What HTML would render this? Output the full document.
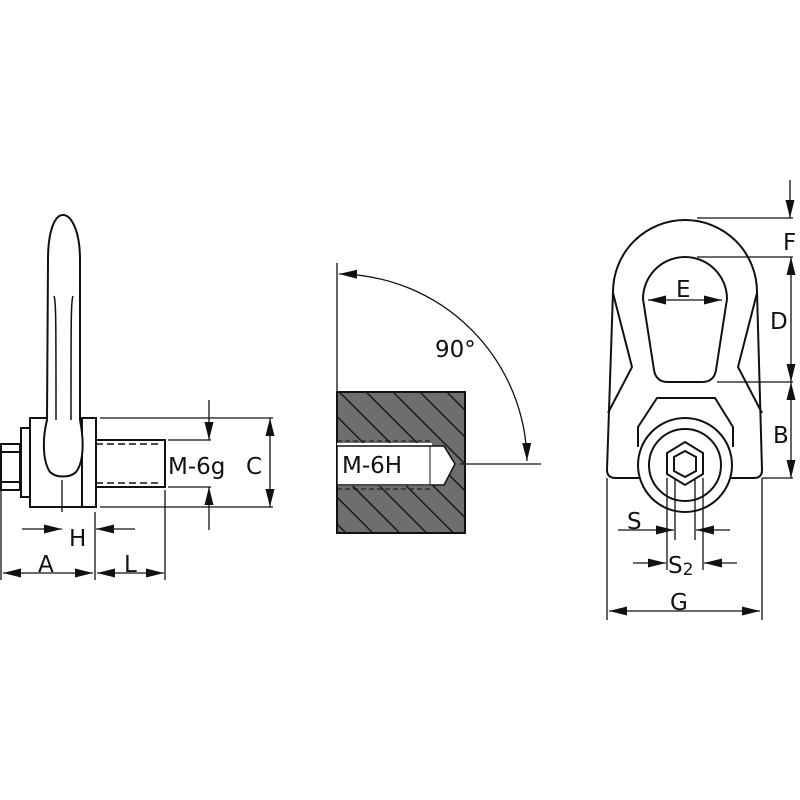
<!DOCTYPE html>
<html><head><meta charset="utf-8"><style>html,body{margin:0;padding:0;background:#fff}svg{display:block}text{font-family:"DejaVu Sans","Liberation Sans",sans-serif;fill:#111}</style></head><body>
<svg width="800" height="800" viewBox="0 0 800 800" xmlns="http://www.w3.org/2000/svg">
<defs>
<marker id="a" viewBox="0 0 10 10" preserveAspectRatio="none" refX="10" refY="5" markerWidth="18" markerHeight="9" markerUnits="userSpaceOnUse" orient="auto-start-reverse"><path d="M0,0L10,5L0,10z" fill="#111"/></marker>
<pattern id="h" width="19" height="19" patternUnits="userSpaceOnUse" patternTransform="rotate(-45)"><rect width="19" height="19" fill="#6e6e6e"/><line x1="0" y1="0" x2="0" y2="19" stroke="#1a1a1a" stroke-width="3"/></pattern>
</defs>
<g fill="none" stroke="#111" stroke-width="2">
<!-- LEFT VIEW -->
<rect x="1" y="444" width="19" height="46" fill="#fff"/>
<line x1="1" y1="452" x2="20" y2="452"/><line x1="1" y1="482" x2="20" y2="482"/>
<rect x="21" y="428" width="9" height="69" fill="#fff"/>
<rect x="30" y="418" width="66" height="89" fill="#fff"/>
<line x1="82" y1="418" x2="82" y2="507"/>
<path d="M48,260 C48,230 55,215 63,215 C71,215 80,230 80,260 L80,420 C84,440 84,462 76,472 C70,478 56,478 50,472 C43,462 42,440 47,420 Z" fill="#fff"/>
<path d="M54,296 C56,300 56,320 56,420" stroke-width="1.5"/><path d="M73,296 C71,300 71,320 71,420" stroke-width="1.5"/>
<rect x="96" y="440" width="69" height="47" fill="#fff"/>
<line x1="96" y1="444" x2="162" y2="444" stroke-dasharray="7,4" stroke-width="1.5"/>
<line x1="96" y1="483" x2="162" y2="483" stroke-dasharray="7,4" stroke-width="1.5"/>
<g stroke-width="1.3">
<line x1="100" y1="418" x2="273" y2="418"/><line x1="100" y1="507" x2="273" y2="507"/>
<line x1="168" y1="440" x2="211" y2="440"/><line x1="168" y1="487" x2="211" y2="487"/>
<line x1="270" y1="418" x2="270" y2="507" marker-start="url(#a)" marker-end="url(#a)"/>
<line x1="209" y1="400" x2="209" y2="440" marker-end="url(#a)"/>
<line x1="209" y1="530" x2="209" y2="487" marker-end="url(#a)"/>
<line x1="62" y1="480" x2="62" y2="512"/><line x1="95" y1="512" x2="95" y2="580"/>
<line x1="1" y1="480" x2="1" y2="580"/><line x1="165" y1="490" x2="165" y2="580"/>
<line x1="22" y1="529" x2="62" y2="529" marker-end="url(#a)"/>
<line x1="135" y1="529" x2="96" y2="529" marker-end="url(#a)"/>
<line x1="3" y1="573" x2="93" y2="573" marker-start="url(#a)" marker-end="url(#a)"/>
<line x1="97" y1="573" x2="164" y2="573" marker-start="url(#a)" marker-end="url(#a)"/>
</g>
<!-- MIDDLE -->
<rect x="337" y="392" width="128" height="141" fill="url(#h)" stroke="none"/>
<rect x="337" y="392" width="128" height="141"/>
<path d="M337,443 L432,443 L432,486 L337,486 Z" fill="#fff" stroke="none"/>
<path d="M337,446 L444,446 L455,464 L444,485 L337,485 Z" fill="#fff" stroke-width="1.5"/>
<line x1="430" y1="446" x2="430" y2="485" stroke-width="1"/>
<line x1="337" y1="441" x2="432" y2="441" stroke-dasharray="5,3" stroke-width="1"/>
<line x1="337" y1="489" x2="432" y2="489" stroke-dasharray="5,3" stroke-width="1"/>
<g stroke-width="1.3">
<line x1="337" y1="263" x2="337" y2="392"/>
<line x1="460" y1="464" x2="541" y2="464"/>
<path d="M339,274 A190,190 0 0 1 527,461" marker-start="url(#a)" marker-end="url(#a)"/>
</g>
<!-- RIGHT -->
<path d="M613,292 A72,72 0 0 1 757,292 L762,470 Q762,478 754,478 L616,478 Q607,478 607,470 Z" fill="#fff"/>
<path d="M643,299 A42,42 0 0 1 727,299 L716,370 Q714,382 702,382 L668,382 Q656,382 654,370 Z"/>
<path d="M613,293 L632,367 L608,413"/><path d="M757,293 L738,367 L762,413"/>
<path d="M638,447 L638,427 L657,398 L715,398 L733,427 L733,447"/>
<circle cx="685" cy="465" r="47" fill="#fff"/>
<circle cx="685" cy="465" r="36"/>
<polygon points="685,442 703,453 703,474 685,485 667,474 667,453"/>
<polygon points="685,451 696,457 696,471 685,477 674,471 674,457"/>
<g stroke-width="1.3">
<line x1="697" y1="218" x2="793" y2="218"/><line x1="697" y1="257" x2="793" y2="257"/>
<line x1="717" y1="382" x2="793" y2="382"/><line x1="762" y1="478" x2="793" y2="478"/>
<line x1="790" y1="180" x2="790" y2="218" marker-end="url(#a)"/>
<line x1="791" y1="257" x2="791" y2="382" marker-start="url(#a)" marker-end="url(#a)"/>
<line x1="791" y1="382" x2="791" y2="478" marker-start="url(#a)" marker-end="url(#a)"/>
<line x1="648" y1="300" x2="722" y2="300" marker-start="url(#a)" marker-end="url(#a)"/>
<line x1="667" y1="478" x2="667" y2="570"/><line x1="703" y1="478" x2="703" y2="570"/>
<line x1="675" y1="478" x2="675" y2="540"/><line x1="695" y1="478" x2="695" y2="540"/>
<line x1="618" y1="530" x2="674" y2="530" marker-end="url(#a)"/>
<line x1="730" y1="530" x2="696" y2="530" marker-end="url(#a)"/>
<line x1="633" y1="563" x2="666" y2="563" marker-end="url(#a)"/>
<line x1="737" y1="563" x2="704" y2="563" marker-end="url(#a)"/>
<line x1="607" y1="478" x2="607" y2="620"/><line x1="762" y1="478" x2="762" y2="620"/>
<line x1="609" y1="611" x2="760" y2="611" marker-start="url(#a)" marker-end="url(#a)"/>
</g>
</g>
<g font-size="23">
<text x="168" y="474">M-6g</text><text x="246" y="474">C</text>
<text x="69" y="546">H</text><text x="38" y="572">A</text><text x="124" y="572">L</text>
<text x="342" y="473">M-6H</text><text x="435" y="357">90°</text>
<text x="783" y="250">F</text><text x="770" y="329">D</text><text x="773" y="443">B</text>
<text x="676" y="297">E</text><text x="627" y="529">S</text>
<text x="668" y="573">S<tspan font-size="17" dy="2">2</tspan></text>
<text x="670" y="610">G</text>
</g>
</svg>
</body></html>
